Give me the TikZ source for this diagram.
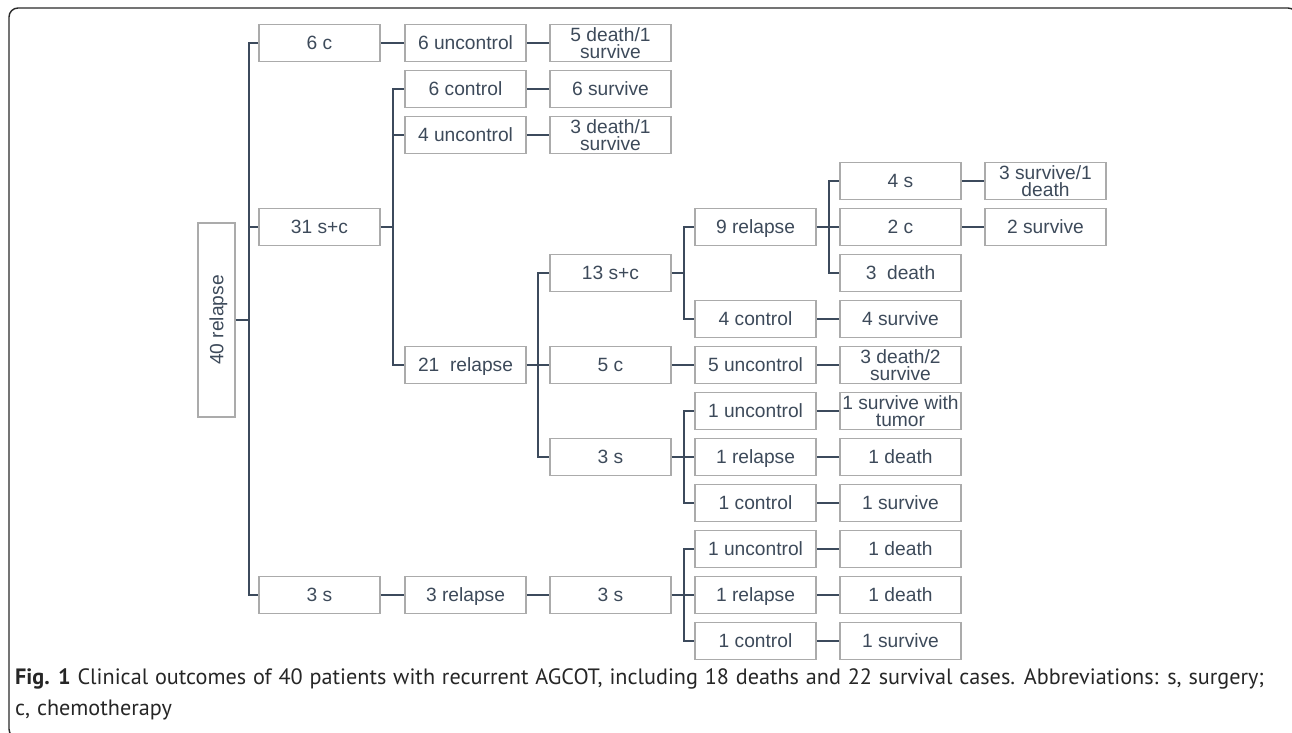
\documentclass[tikz,border=0pt]{standalone}
\usepackage{fontspec}
\setmainfont{Liberation Sans}
\newfontfamily\capfont[WordSpace=1.15]{PT Sans}
\definecolor{linec}{HTML}{3C4A5C}
\definecolor{boxc}{HTML}{ABABAB}
\definecolor{txtc}{HTML}{3D4A5A}
\definecolor{framec}{HTML}{2A2A2A}
\tikzset{
  bx/.style={draw=boxc, line width=1.5pt, minimum width=121pt, minimum height=37pt,
    inner sep=0pt, text=txtc, align=center, text depth=0pt, font=\fontsize{19.2}{17}\selectfont},
  conn/.style={draw=linec, line width=2pt},
  captxt/.style={anchor=base west, inner sep=0pt, text=black!85, font=\capfont\fontsize{22.2}{24}\selectfont},
}
\begin{document}
\begin{tikzpicture}[x=1pt,y=-1pt]
\useasboundingbox (0,0) rectangle (1292,732);
\begin{scope}
\clip (0,0) rectangle (1292,732);
\draw[framec, line width=1.4pt, rounded corners=9pt] (9,8) rectangle (1297,738);
\end{scope}
% root
\node[bx, minimum width=194pt, minimum height=37pt, rotate=90] (root) at (216.5,320) {40 relapse};
% column 1
\node[bx] (a6c) at (319.5,43) {6 c};
\node[bx] (a31) at (319.5,227) {31 s+c};
\node[bx] (a3s) at (319.5,595) {3 s};
% column 2
\node[bx] (b6u) at (465.5,43) {6 uncontrol};
\node[bx] (b6c) at (465.5,89) {6 control};
\node[bx] (b4u) at (465.5,135) {4 uncontrol};
\node[bx] (b21) at (465.5,365) {21~~relapse};
\node[bx] (b3r) at (465.5,595) {3 relapse};
% column 3
\node[bx] (c5d) at (610.5,43) {5 death/1\\survive};
\node[bx] (c6s) at (610.5,89) {6 survive};
\node[bx] (c3d) at (610.5,135) {3 death/1\\survive};
\node[bx] (c13) at (610.5,273) {13 s+c};
\node[bx] (c5c) at (610.5,365) {5 c};
\node[bx] (c3s) at (610.5,457) {3 s};
\node[bx] (c3sb) at (610.5,595) {3 s};
% column 4
\node[bx] (d9r) at (755.5,227) {9 relapse};
\node[bx] (d4c) at (755.5,319) {4 control};
\node[bx] (d5u) at (755.5,365) {5 uncontrol};
\node[bx] (d1u) at (755.5,411) {1 uncontrol};
\node[bx] (d1r) at (755.5,457) {1 relapse};
\node[bx] (d1c) at (755.5,503) {1 control};
\node[bx] (d1ub) at (755.5,549) {1 uncontrol};
\node[bx] (d1rb) at (755.5,595) {1 relapse};
\node[bx] (d1cb) at (755.5,641) {1 control};
% column 5
\node[bx] (e4s) at (900.5,181) {4 s};
\node[bx] (e2c) at (900.5,227) {2 c};
\node[bx] (e3d) at (900.5,273) {3~~death};
\node[bx] (e4sv) at (900.5,319) {4 survive};
\node[bx] (e3d2) at (900.5,365) {3 death/2\\survive};
\node[bx] (e1st) at (900.5,411) {1 survive with\\tumor};
\node[bx] (e1d) at (900.5,457) {1 death};
\node[bx] (e1s) at (900.5,503) {1 survive};
\node[bx] (e1db) at (900.5,549) {1 death};
\node[bx] (e1db2) at (900.5,595) {1 death};
\node[bx] (e1sb) at (900.5,641) {1 survive};
% column 6
\node[bx] (f3s) at (1045.5,181) {3 survive/1\\death};
\node[bx] (f2s) at (1045.5,227) {2 survive};
% connectors: elbows
\foreach \c in {a6c,a31,a3s} \draw[conn] (root.south) -- ++(13,0) |- (\c.west);
\foreach \c in {b6c,b4u,b21} \draw[conn] (a31.east) -- ++(12,0) |- (\c.west);
\foreach \c in {c13,c5c,c3s} \draw[conn] (b21.east) -- ++(11,0) |- (\c.west);
\foreach \c in {d9r,d4c} \draw[conn] (c13.east) -- ++(12,0) |- (\c.west);
\foreach \c in {e4s,e2c,e3d} \draw[conn] (d9r.east) -- ++(12,0) |- (\c.west);
\foreach \c in {d1u,d1r,d1c} \draw[conn] (c3s.east) -- ++(12,0) |- (\c.west);
\foreach \c in {d1ub,d1rb,d1cb} \draw[conn] (c3sb.east) -- ++(12,0) |- (\c.west);
% straight connectors
\draw[conn] (a6c.east) -- (b6u.west);
\draw[conn] (b6u.east) -- (c5d.west);
\draw[conn] (b6c.east) -- (c6s.west);
\draw[conn] (b4u.east) -- (c3d.west);
\draw[conn] (e4s.east) -- (f3s.west);
\draw[conn] (e2c.east) -- (f2s.west);
\draw[conn] (d4c.east) -- (e4sv.west);
\draw[conn] (c5c.east) -- (d5u.west);
\draw[conn] (d5u.east) -- (e3d2.west);
\draw[conn] (d1u.east) -- (e1st.west);
\draw[conn] (d1r.east) -- (e1d.west);
\draw[conn] (d1c.east) -- (e1s.west);
\draw[conn] (a3s.east) -- (b3r.west);
\draw[conn] (b3r.east) -- (c3sb.west);
\draw[conn] (d1ub.east) -- (e1db.west);
\draw[conn] (d1rb.east) -- (e1db2.west);
\draw[conn] (d1cb.east) -- (e1sb.west);
% caption
\node[captxt] (cap1) at (15,684) {\textbf{Fig. 1} Clinical outcomes of 40 patients with recurrent AGCOT, including 18 deaths and 22 survival cases. Abbreviations: s, surgery;};
\node[captxt] (cap2) at (15,715) {c, chemotherapy};
\end{tikzpicture}
\end{document}
